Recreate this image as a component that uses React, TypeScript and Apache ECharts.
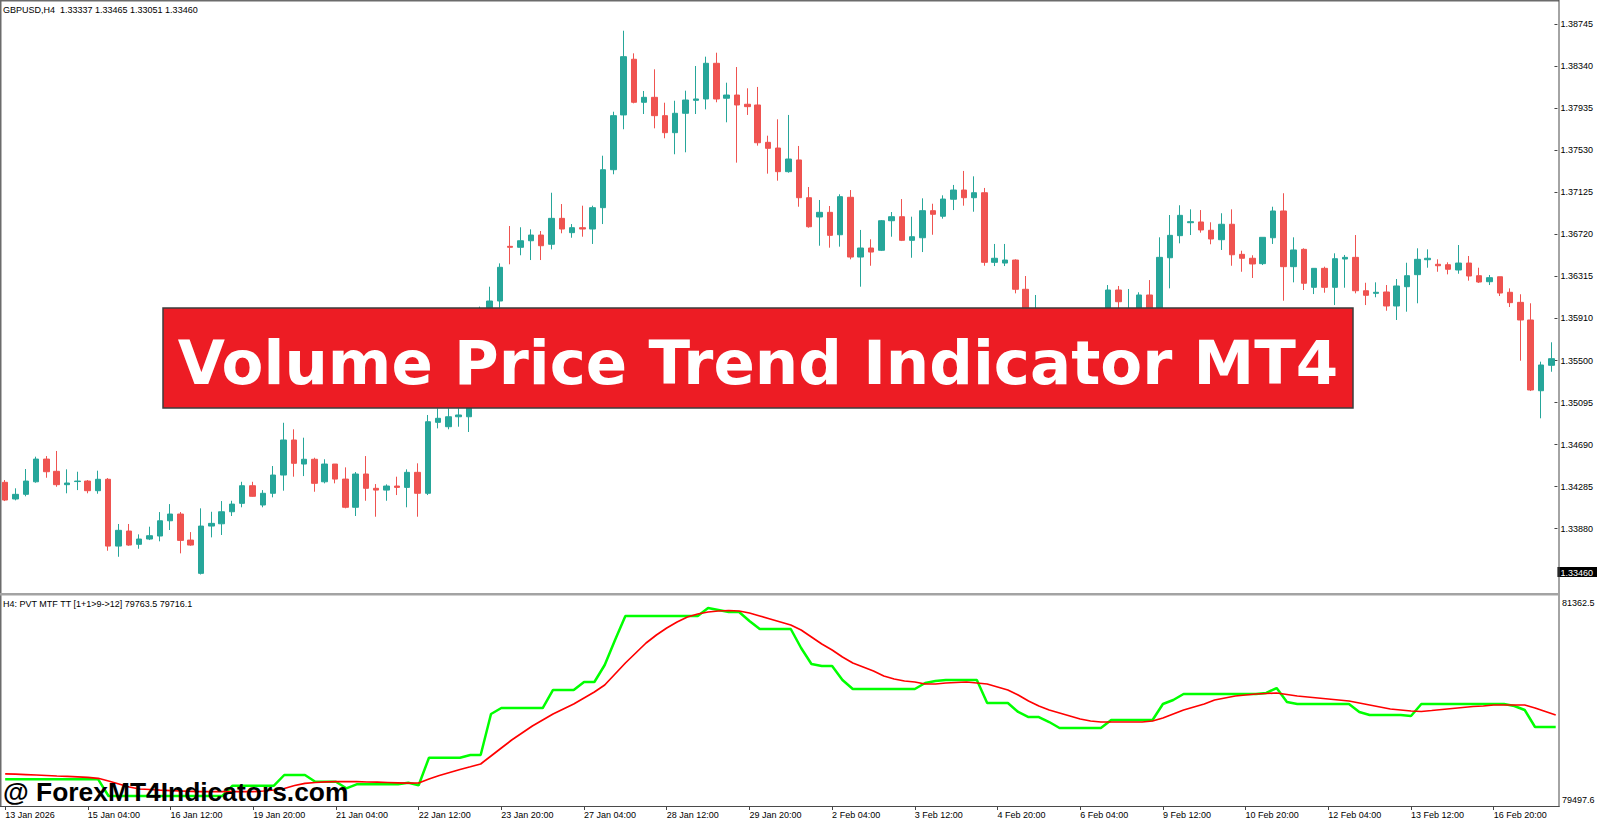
import React, { useEffect, useRef } from "react";
import * as echarts from "echarts";

const SYMBOL_HEADER = "GBPUSD,H4  1.33337 1.33465 1.33051 1.33460";
const INDICATOR_HEADER = "H4: PVT MTF TT [1+1>9->12] 79763.5 79716.1";
const TITLE = "Volume Price Trend Indicator MT4";
const WATERMARK = "@ ForexMT4Indicators.com";

const OPEN = [
  1.34326, 1.34165, 1.3421, 1.34331, 1.3455, 1.34432, 1.34303, 1.34333, 1.34338, 1.34245,
  1.34355, 1.33711, 1.33856, 1.33728, 1.33779, 1.33808, 1.33955, 1.3402, 1.33769, 1.33448,
  1.33904, 1.33926, 1.34042, 1.34123, 1.34293, 1.34107, 1.3422, 1.34396, 1.34734, 1.34502,
  1.34548, 1.34331, 1.34502, 1.34357, 1.34085, 1.34406, 1.34268, 1.34251, 1.3429, 1.34277,
  1.34422, 1.3422, 1.34904, 1.34862, 1.34958, 1.34958, 1.35081, 1.36009, 1.36074, 1.36601,
  1.36592, 1.36655, 1.3671, 1.36621, 1.36871, 1.36733, 1.36781, 1.36768, 1.36974, 1.3734,
  1.37868, 1.38405, 1.3799, 1.38038, 1.37861, 1.37697, 1.37884, 1.38009, 1.38022, 1.38366,
  1.38029, 1.3806, 1.37971, 1.37964, 1.37604, 1.37549, 1.37321, 1.37434, 1.3707, 1.36884,
  1.36929, 1.36713, 1.37074, 1.36498, 1.36585, 1.36563, 1.36848, 1.36887, 1.36659, 1.36684,
  1.36945, 1.36891, 1.37055, 1.37144, 1.3707, 1.37118, 1.36447, 1.3644, 1.36469, 1.36187,
  1.35871, 1.35968, 1.35775, 1.35621, 1.35736, 1.35871, 1.35794, 1.3591, 1.3618, 1.3591,
  1.35997, 1.36132, 1.35968, 1.36491, 1.36704, 1.36829, 1.36836, 1.36756, 1.36665, 1.36814,
  1.36524, 1.36486, 1.36434, 1.36684, 1.36942, 1.36405, 1.36572, 1.36206, 1.36389, 1.36206,
  1.36479, 1.36495, 1.36173, 1.36148, 1.36161, 1.36026, 1.36212, 1.36328, 1.36472, 1.36428,
  1.36424, 1.36373, 1.3644, 1.36318, 1.3626, 1.36308, 1.36158, 1.36061, 1.35891, 1.35209,
  1.35454,
];

const CLOSE = [
  1.34155, 1.3421, 1.34338, 1.3455, 1.34428, 1.34303, 1.34319, 1.34338, 1.34245, 1.34355,
  1.33711, 1.33863, 1.33721, 1.33779, 1.33811, 1.33955, 1.3402, 1.33766, 1.33721, 1.33904,
  1.3393, 1.34042, 1.34116, 1.34293, 1.34191, 1.3422, 1.34396, 1.34734, 1.34509, 1.34548,
  1.34316, 1.34502, 1.34357, 1.34085, 1.34406, 1.34268, 1.34251, 1.3429, 1.34277, 1.34422,
  1.3422, 1.3491, 1.34943, 1.34958, 1.34975, 1.35081, 1.35995, 1.36074, 1.36399, 1.36592,
  1.36655, 1.3671, 1.36607, 1.36871, 1.36768, 1.36781, 1.36768, 1.36974, 1.3734, 1.37861,
  1.3843, 1.3799, 1.38038, 1.37861, 1.37697, 1.37884, 1.38012, 1.38022, 1.38366, 1.38022,
  1.3806, 1.37964, 1.37948, 1.376, 1.37546, 1.37321, 1.37443, 1.3707, 1.3679, 1.36929,
  1.36707, 1.3708, 1.36498, 1.36585, 1.36546, 1.36848, 1.36887, 1.36659, 1.36694, 1.36945,
  1.3691, 1.37057, 1.37144, 1.3707, 1.37118, 1.36447, 1.36486, 1.36469, 1.36187, 1.35939,
  1.35968, 1.35775, 1.35621, 1.35736, 1.35871, 1.35794, 1.3591, 1.3618, 1.36067, 1.35997,
  1.36132, 1.35968, 1.36495, 1.36707, 1.369, 1.36839, 1.36759, 1.36672, 1.36814, 1.3652,
  1.36486, 1.36431, 1.36688, 1.36942, 1.36405, 1.36566, 1.36245, 1.36389, 1.36206, 1.36482,
  1.36495, 1.36173, 1.36129, 1.36158, 1.36026, 1.36219, 1.36318, 1.36476, 1.36486, 1.36414,
  1.3638, 1.3644, 1.36315, 1.36257, 1.36299, 1.36151, 1.36058, 1.35891, 1.35216, 1.35457,
  1.35518,
];

const LOW = [
  1.34145, 1.34152, 1.34191, 1.34322, 1.3437, 1.34283, 1.3422, 1.34251, 1.3422, 1.34216,
  1.33666, 1.33608, 1.33714, 1.33685, 1.33769, 1.33757, 1.33866, 1.33641, 1.33714, 1.33437,
  1.33795, 1.33818, 1.34001, 1.34085, 1.34187, 1.34085, 1.34181, 1.34245, 1.3438, 1.34386,
  1.34235, 1.34316, 1.34316, 1.34075, 1.34001, 1.34148, 1.33994, 1.34148, 1.34203, 1.34085,
  1.33994, 1.34203, 1.34846, 1.34837, 1.34862, 1.34811, 1.35052, 1.35987, 1.36009, 1.36428,
  1.36515, 1.36469, 1.36469, 1.36572, 1.36727, 1.36684, 1.36694, 1.36624, 1.36816, 1.37296,
  1.3773, 1.3798, 1.37877, 1.37739, 1.37643, 1.37489, 1.37508, 1.37877, 1.37922, 1.3799,
  1.37797, 1.37408, 1.37868, 1.37572, 1.37302, 1.37234, 1.37311, 1.36983, 1.36781, 1.36607,
  1.36588, 1.36598, 1.36476, 1.36212, 1.36414, 1.36556, 1.36694, 1.36652, 1.36491, 1.36546,
  1.36713, 1.36868, 1.36951, 1.36993, 1.36935, 1.36414, 1.36411, 1.36411, 1.36148, 1.35891,
  1.35814, 1.35698, 1.35544, 1.35524, 1.35679, 1.35727, 1.35756, 1.35871, 1.35968, 1.35871,
  1.35968, 1.3591, 1.35929, 1.36196, 1.3663, 1.3671, 1.36733, 1.36621, 1.36566, 1.36414,
  1.36356, 1.36296, 1.36421, 1.36624, 1.36077, 1.36254, 1.3618, 1.36141, 1.36154, 1.36035,
  1.36202, 1.36148, 1.36035, 1.3611, 1.3598, 1.35891, 1.35971, 1.36052, 1.36395, 1.36356,
  1.36331, 1.36337, 1.3627, 1.36248, 1.36228, 1.36122, 1.36016, 1.35498, 1.35206, 1.34943,
  1.35392,
];

const HIGH = [
  1.34348, 1.34268, 1.34454, 1.34573, 1.34579, 1.34628, 1.34451, 1.34428, 1.34348, 1.34438,
  1.34367, 1.33924, 1.33924, 1.33824, 1.33898, 1.34039, 1.34116, 1.34039, 1.33846, 1.34075,
  1.34042, 1.34145, 1.34148, 1.34331, 1.34331, 1.34251, 1.34483, 1.349, 1.34837, 1.34756,
  1.34563, 1.34548, 1.34502, 1.3447, 1.34425, 1.34579, 1.34309, 1.34306, 1.3438, 1.34451,
  1.34509, 1.34975, 1.35039, 1.35039, 1.35039, 1.35139, 1.3602, 1.36212, 1.36437, 1.36797,
  1.36785, 1.36765, 1.36749, 1.37118, 1.37009, 1.36816, 1.36993, 1.36993, 1.37475, 1.37899,
  1.3868, 1.38462, 1.38099, 1.38308, 1.37986, 1.38005, 1.38102, 1.3834, 1.3843, 1.38468,
  1.38179, 1.3833, 1.38125, 1.38138, 1.37668, 1.37826, 1.37868, 1.37569, 1.37173, 1.37048,
  1.3699, 1.37103, 1.37144, 1.36759, 1.36669, 1.36855, 1.36932, 1.37057, 1.36887, 1.37064,
  1.37012, 1.37093, 1.37193, 1.37328, 1.37276, 1.37164, 1.36624, 1.36624, 1.36476, 1.36315,
  1.36132, 1.35987, 1.35833, 1.35794, 1.35929, 1.35949, 1.35968, 1.36228, 1.36219, 1.3619,
  1.36158, 1.36276, 1.36688, 1.36903, 1.36997, 1.36958, 1.36951, 1.36833, 1.3692, 1.36958,
  1.36559, 1.36515, 1.36688, 1.36983, 1.37113, 1.36688, 1.36582, 1.36389, 1.36405, 1.36534,
  1.36518, 1.3671, 1.3625, 1.36254, 1.36228, 1.36286, 1.36443, 1.36582, 1.36572, 1.36476,
  1.36447, 1.36614, 1.36508, 1.36395, 1.36325, 1.36308, 1.36196, 1.36139, 1.36052, 1.35489,
  1.35676,
];

// PVT MTF line (green)
const PVT_MTF = [
  79735.8, 79735.8, 79735.8, 79735.8, 79735.8, 79735.8, 79735.8, 79735.8, 79735.8, 79735.8,
  79586.8, 79586.8, 79586.8, 79586.8, 79586.8, 79586.8, 79586.8, 79586.8, 79586.8, 79586.8,
  79586.8, 79586.8, 79678.7, 79678.7, 79678.7, 79678.7, 79678.7, 79774.2, 79774.2, 79774.2,
  79714.4, 79714.4, 79714.4, 79655.5, 79691.2, 79691.2, 79691.2, 79691.2, 79691.2, 79705.5,
  79682.3, 79928.6, 79928.6, 79928.6, 79928.6, 79952.7, 79952.7, 80318.5, 80372.0, 80372.0,
  80372.0, 80372.0, 80372.0, 80532.7, 80532.7, 80532.7, 80604.0, 80604.0, 80755.7, 80978.8,
  81193.0, 81193.0, 81193.0, 81193.0, 81193.0, 81193.0, 81193.0, 81193.0, 81264.3, 81246.5,
  81228.7, 81228.7, 81148.3, 81077.0, 81077.0, 81077.0, 81077.0, 80907.4, 80764.7, 80746.8,
  80746.8, 80621.9, 80541.6, 80541.6, 80541.6, 80541.6, 80541.6, 80541.6, 80541.6, 80595.1,
  80613.0, 80621.9, 80621.9, 80621.9, 80621.9, 80416.7, 80416.7, 80416.7, 80336.4, 80291.7,
  80291.7, 80247.1, 80193.6, 80193.6, 80193.6, 80193.6, 80193.6, 80265.0, 80265.0, 80265.0,
  80265.0, 80265.0, 80407.7, 80443.4, 80497.0, 80497.0, 80497.0, 80497.0, 80497.0, 80497.0,
  80497.0, 80497.0, 80505.9, 80550.5, 80425.6, 80407.7, 80407.7, 80407.7, 80407.7, 80407.7,
  80407.7, 80336.4, 80309.6, 80309.6, 80309.6, 80309.6, 80300.7, 80407.7, 80407.7, 80407.7,
  80407.7, 80407.7, 80407.7, 80407.7, 80407.7, 80407.7, 80389.9, 80354.2, 80202.5, 80202.5,
  80202.5,
];

// PVT signal line (red)
const PVT_SIGNAL = [
  79784.9, 79781.3, 79777.8, 79774.2, 79769.7, 79765.3, 79761.7, 79758.1, 79752.8, 79744.8,
  79720.7, 79693.9, 79667.1, 79649.3, 79644.8, 79638.6, 79634.1, 79631.4, 79628.8, 79626.1,
  79625.2, 79625.2, 79625.2, 79625.2, 79625.2, 79631.4, 79640.4, 79653.7, 79680.5, 79700.2,
  79707.3, 79713.5, 79714.4, 79714.4, 79714.4, 79711.7, 79710.0, 79707.3, 79704.6, 79701.9,
  79702.8, 79738.5, 79769.7, 79796.5, 79823.3, 79847.4, 79872.4, 79943.7, 80015.1, 80086.5,
  80149.0, 80211.4, 80265.0, 80318.5, 80363.1, 80407.7, 80461.3, 80514.8, 80577.3, 80675.4,
  80773.6, 80862.8, 80952.0, 81023.4, 81085.9, 81139.4, 81184.0, 81210.8, 81228.7, 81237.6,
  81242.0, 81237.6, 81219.7, 81193.0, 81166.2, 81139.4, 81112.7, 81068.0, 81005.6, 80943.1,
  80889.6, 80827.1, 80773.6, 80737.9, 80702.2, 80657.6, 80630.8, 80613.0, 80604.0, 80586.2,
  80586.2, 80595.1, 80599.6, 80604.0, 80595.1, 80586.2, 80559.4, 80532.7, 80488.0, 80434.5,
  80389.9, 80354.2, 80327.4, 80300.7, 80273.9, 80256.0, 80247.1, 80247.1, 80247.1, 80247.1,
  80247.1, 80256.0, 80282.8, 80318.5, 80354.2, 80381.0, 80407.7, 80443.4, 80461.3, 80479.1,
  80488.0, 80497.0, 80501.4, 80505.9, 80492.5, 80479.1, 80470.2, 80461.3, 80452.4, 80443.4,
  80434.5, 80416.7, 80398.8, 80381.0, 80363.1, 80354.2, 80345.3, 80340.8, 80349.7, 80358.7,
  80367.6, 80376.5, 80385.4, 80389.9, 80398.8, 80398.8, 80398.8, 80398.8, 80372.0, 80340.8,
  80309.6,
];

const PRICE_TICKS = [
  1.3388, 1.34285, 1.3469, 1.35095, 1.355, 1.3591, 1.36315, 1.3672, 1.37125, 1.3753, 1.37935,
  1.3834, 1.38745,
];
const PRICE_MIN = 1.33249;
const PRICE_MAX = 1.38957;
const BID = 1.3346;
const PRICE_LABELS = [BID, ...PRICE_TICKS];
const PVT_MIN = 79497.6;
const PVT_MAX = 81362.5;
const PVT_TICKS = [PVT_MIN, PVT_MAX];

const MONTHS = ["Jan", "Feb", "Mar", "Apr", "May", "Jun", "Jul", "Aug", "Sep", "Oct", "Nov", "Dec"];
const FIRST_BAR = Date.UTC(2026, 0, 13, 20, 0);
const H4_MS = 4 * 3600 * 1000;

function pad2(n: number): string {
  return n < 10 ? "0" + n : String(n);
}

function buildBarTimes(count: number): string[] {
  const out: string[] = [];
  let t = FIRST_BAR;
  while (out.length < count) {
    const d = new Date(t);
    const wd = d.getUTCDay();
    if (wd !== 0 && wd !== 6) {
      if (out.length === 0) {
        out.push(`${d.getUTCDate()} ${MONTHS[d.getUTCMonth()]} ${d.getUTCFullYear()}`);
      } else {
        out.push(
          `${d.getUTCDate()} ${MONTHS[d.getUTCMonth()]} ${pad2(d.getUTCHours())}:${pad2(d.getUTCMinutes())}`
        );
      }
    }
    t += H4_MS;
  }
  return out;
}

const BAR_TIMES = buildBarTimes(OPEN.length);

const FONT = "Tahoma, 'Liberation Sans', Arial, sans-serif";
const BULL = "#26a69a";
const BEAR = "#ef5350";

export default function App() {
  const ref = useRef<HTMLDivElement | null>(null);

  useEffect(() => {
    document.body.style.margin = "0";
    document.body.style.overflow = "hidden";
    if (!ref.current) return;
    const chart = echarts.init(ref.current, undefined, { renderer: "svg" });

    const candles = OPEN.map((o, i) => [o, CLOSE[i], LOW[i], HIGH[i]]);
    const gridLeft = -3.48;
    const gridWidth = 1564.36;

    const option: any = {
      animation: false,
      backgroundColor: "#ffffff",
      grid: [
        { left: gridLeft, width: gridWidth, top: 2, height: 592 },
        { left: gridLeft, width: gridWidth, top: 597, height: 209 },
      ],
      xAxis: [
        { type: "category", gridIndex: 0, data: BAR_TIMES, boundaryGap: true, show: false },
        {
          type: "category",
          gridIndex: 1,
          data: BAR_TIMES,
          boundaryGap: true,
          axisLine: { show: false },
          axisTick: { show: true, interval: 7, alignWithLabel: true, length: 4, lineStyle: { color: "#444" } },
          axisLabel: {
            interval: 7,
            align: "left",
            margin: 4,
            fontSize: 9,
            color: "#000",
            fontFamily: FONT,
          },
          splitLine: { show: false },
        },
      ],
      yAxis: [
        {
          type: "value",
          gridIndex: 0,
          position: "right",
          min: PRICE_MIN,
          max: PRICE_MAX,
          offset: -2,
          axisLine: { show: false },
          splitLine: { show: false },
          axisTick: { show: true, length: 3, customValues: PRICE_TICKS, lineStyle: { color: "#444" } },
          axisLabel: {
            customValues: PRICE_LABELS,
            margin: 3,
            fontSize: 9,
            color: "#000",
            fontFamily: FONT,
            formatter: (v: number) =>
              Math.abs(v - BID) < 1e-7 ? `{bid|${v.toFixed(5)}}` : `{n|${v.toFixed(5)}}`,
            rich: {
              n: { padding: [0, 0, 0, 3], fontSize: 9, color: "#000", fontFamily: FONT },
              bid: {
                padding: [1, 4, 0, 3],
                fontSize: 9,
                color: "#ffffff",
                backgroundColor: "#000000",
                fontFamily: FONT,
              },
            },
          },
        },
        {
          type: "value",
          gridIndex: 1,
          position: "right",
          min: PVT_MIN,
          max: PVT_MAX,
          offset: -2,
          axisLine: { show: false },
          splitLine: { show: false },
          axisTick: { show: false },
          axisLabel: {
            customValues: PVT_TICKS,
            margin: 3,
            fontSize: 9,
            color: "#000",
            fontFamily: FONT,
            formatter: (v: number) =>
              v >= PVT_MAX - 0.01 ? `{hi|${v.toFixed(1)}}` : `{lo|${v.toFixed(1)}}`,
            rich: {
              hi: { padding: [12, 0, 0, 0], fontSize: 9, color: "#000", fontFamily: FONT },
              lo: { padding: [0, 0, 12, 0], fontSize: 9, color: "#000", fontFamily: FONT },
            },
          },
        },
      ],
      series: [
        {
          type: "candlestick",
          name: "GBPUSD,H4",
          xAxisIndex: 0,
          yAxisIndex: 0,
          data: candles,
          barWidth: 6,
          itemStyle: {
            color: BULL,
            color0: BEAR,
            borderColor: BULL,
            borderColor0: BEAR,
            borderWidth: 1,
          },
          markLine: {
            silent: true,
            symbol: "none",
            animation: false,
            lineStyle: { color: "#e9e9e9", width: 1, type: "solid" },
            label: { show: false },
            data: [{ yAxis: BID }],
          },
        },
        {
          type: "line",
          name: "PVT MTF",
          xAxisIndex: 1,
          yAxisIndex: 1,
          data: PVT_MTF,
          symbol: "none",
          showSymbol: false,
          lineStyle: { color: "#00ff00", width: 2.5 },
        },
        {
          type: "line",
          name: "PVT signal",
          xAxisIndex: 1,
          yAxisIndex: 1,
          data: PVT_SIGNAL,
          symbol: "none",
          showSymbol: false,
          lineStyle: { color: "#ff0000", width: 1.7 },
        },
      ],
      graphic: [
        { type: "rect", z: 50, silent: true, shape: { x: 0, y: 0, width: 1559, height: 1.5 }, style: { fill: "#6b6b6b" } },
        { type: "rect", z: 50, silent: true, shape: { x: 0, y: 0, width: 1.5, height: 806 }, style: { fill: "#6b6b6b" } },
        { type: "rect", z: 50, silent: true, shape: { x: 1558.5, y: 0, width: 1, height: 807 }, style: { fill: "#4a4a4a" } },
        { type: "rect", z: 50, silent: true, shape: { x: 0, y: 806, width: 1559.5, height: 1 }, style: { fill: "#4a4a4a" } },
        { type: "rect", z: 50, silent: true, shape: { x: 0, y: 593, width: 1559, height: 2.5 }, style: { fill: "#a3a3a3" } },
        {
          type: "text",
          z: 60,
          x: 3,
          y: 10,
          style: { text: SYMBOL_HEADER, fill: "#000", fontSize: 9, fontFamily: FONT, verticalAlign: "middle", textVerticalAlign: "middle" },
        },
        {
          type: "text",
          z: 60,
          x: 3,
          y: 604,
          style: { text: INDICATOR_HEADER, fill: "#000", fontSize: 9, fontFamily: FONT, verticalAlign: "middle", textVerticalAlign: "middle" },
        },
        {
          type: "rect",
          z: 100,
          silent: true,
          shape: { x: 163, y: 308, width: 1190, height: 100 },
          style: { fill: "#ed1c24", stroke: "#3d3d3d", lineWidth: 1.5 },
        },
        {
          type: "text",
          z: 101,
          x: 758,
          y: 362,
          style: {
            text: TITLE,
            fill: "#ffffff",
            fontSize: 61,
            fontWeight: "bold",
            fontFamily: "'DejaVu Sans', Verdana, sans-serif",
            align: "center",
            textAlign: "center",
            verticalAlign: "middle",
            textVerticalAlign: "middle",
          },
        },
        {
          type: "text",
          z: 101,
          x: 3,
          y: 792,
          style: {
            text: WATERMARK,
            fill: "#000000",
            fontSize: 26.4,
            fontWeight: "bold",
            fontFamily: "'Liberation Sans', Arial, sans-serif",
            verticalAlign: "middle",
            textVerticalAlign: "middle",
          },
        },
      ],
    };

    chart.setOption(option);
    return () => {
      chart.dispose();
    };
  }, []);

  return (
    <div
      ref={ref}
      style={{ position: "absolute", left: 0, top: 0, width: 1600, height: 819, background: "#ffffff" }}
    />
  );
}
